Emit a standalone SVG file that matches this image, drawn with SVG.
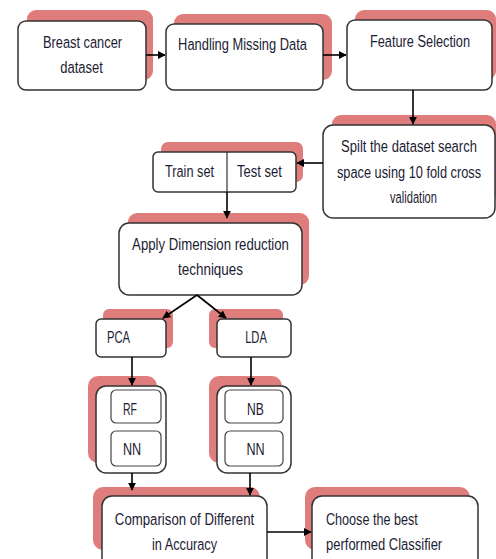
<svg xmlns="http://www.w3.org/2000/svg" width="496" height="559" viewBox="0 0 496 559">
<defs>
<marker id="ah" viewBox="0 0 10 10" refX="9" refY="5" markerWidth="5" markerHeight="5" orient="auto-start-reverse" markerUnits="strokeWidth">
<path d="M0,0 L10,5 L0,10 z" fill="#000"/>
</marker>
</defs>
<style>
.sh{fill:#df7c7c;}
.bx{fill:#fff;stroke:#333;stroke-width:1.5;}
.in{fill:#fff;stroke:#444;stroke-width:1.2;}
text{font-family:"Liberation Sans",Arial,sans-serif;font-size:17px;fill:#1c1c33;}
.c{text-anchor:middle;}
.ln{stroke:#000;stroke-width:1.6;fill:none;marker-end:url(#ah);}
</style>
<rect width="496" height="559" fill="#fff"/>

<g id="breast">
<rect class="sh" x="27" y="10" width="126" height="70" rx="9"/>
<rect class="bx" x="18" y="21" width="128" height="69" rx="8"/>
<text transform="translate(82.5,0) scale(0.7,1)" x="0" y="48" class="c" textLength="113" lengthAdjust="spacingAndGlyphs">Breast cancer</text>
<text transform="translate(81.5,0) scale(0.7,1)" x="0" y="73" class="c" textLength="61" lengthAdjust="spacingAndGlyphs">dataset</text>
</g>

<g id="missing">
<rect class="sh" x="174" y="14" width="158" height="66" rx="9"/>
<rect class="bx" x="166" y="24" width="157" height="66" rx="8"/>
<text transform="translate(242.5,0) scale(0.7,1)" x="0" y="50" class="c" textLength="184" lengthAdjust="spacingAndGlyphs">Handling Missing Data</text>
</g>

<g id="feature">
<rect class="sh" x="355" y="10" width="141" height="70" rx="9"/>
<rect class="bx" x="347" y="20" width="145" height="70" rx="8"/>
<text transform="translate(420,0) scale(0.7,1)" x="0" y="47" class="c" textLength="143" lengthAdjust="spacingAndGlyphs">Feature Selection</text>
</g>

<g id="split">
<rect class="sh" x="332" y="115" width="164" height="90" rx="9"/>
<rect class="bx" x="323" y="125" width="172" height="93" rx="10"/>
<text transform="translate(409,0) scale(0.7,1)" x="0" y="152" class="c" textLength="194" lengthAdjust="spacingAndGlyphs">Spilt the dataset search</text>
<text transform="translate(409,0) scale(0.7,1)" x="0" y="178" class="c" textLength="206" lengthAdjust="spacingAndGlyphs">space using 10 fold cross</text>
<text transform="translate(413.5,0) scale(0.7,1)" x="0" y="203" class="c" textLength="67" lengthAdjust="spacingAndGlyphs">validation</text>
</g>

<g id="trainTest">
<rect class="sh" x="161" y="142" width="142" height="40" rx="7"/>
<rect class="bx" x="153" y="152" width="143" height="40" rx="5"/>
<line x1="227" y1="152" x2="227" y2="192" stroke="#333" stroke-width="1.2"/>
<text transform="translate(189.5,0) scale(0.7,1)" x="0" y="177" class="c" textLength="70" lengthAdjust="spacingAndGlyphs">Train set</text>
<text transform="translate(259.5,0) scale(0.7,1)" x="0" y="177" class="c" textLength="64" lengthAdjust="spacingAndGlyphs">Test set</text>
</g>

<g id="dimred">
<rect class="sh" x="128" y="213" width="181" height="72" rx="9"/>
<rect class="bx" x="119" y="223" width="183" height="72" rx="10"/>
<text transform="translate(210.5,0) scale(0.7,1)" x="0" y="250" class="c" textLength="224" lengthAdjust="spacingAndGlyphs">Apply Dimension reduction</text>
<text transform="translate(210.5,0) scale(0.7,1)" x="0" y="275" class="c" textLength="93" lengthAdjust="spacingAndGlyphs">techniques</text>
</g>

<g id="pca">
<rect class="sh" x="103" y="309" width="70" height="39" rx="6"/>
<rect class="bx" x="96" y="319" width="70" height="38" rx="5"/>
<text transform="translate(118.5,0) scale(0.7,1)" x="0" y="343" class="c" textLength="33" lengthAdjust="spacingAndGlyphs">PCA</text>
</g>

<g id="lda">
<rect class="sh" x="209" y="309" width="74" height="39" rx="6"/>
<rect class="bx" x="217" y="319" width="74" height="38" rx="5"/>
<text transform="translate(256,0) scale(0.7,1)" x="0" y="343" class="c" textLength="31" lengthAdjust="spacingAndGlyphs">LDA</text>
</g>

<g id="group1">
<rect class="sh" x="88" y="376" width="69" height="87" rx="10"/>
<rect class="bx" x="96" y="386" width="70" height="87" rx="10"/>
<rect class="in" x="111" y="390" width="50" height="33" rx="5"/>
<rect class="in" x="111" y="431" width="50" height="35" rx="5"/>
<text transform="translate(130,0) scale(0.7,1)" x="0" y="415" class="c" textLength="20" lengthAdjust="spacingAndGlyphs">RF</text>
<text transform="translate(132,0) scale(0.7,1)" x="0" y="455" class="c" textLength="26" lengthAdjust="spacingAndGlyphs">NN</text>
</g>

<g id="group2">
<rect class="sh" x="209" y="376" width="73" height="87" rx="10"/>
<rect class="bx" x="217" y="386" width="74" height="87" rx="10"/>
<rect class="in" x="225" y="390" width="58" height="33" rx="5"/>
<rect class="in" x="225" y="431" width="58" height="35" rx="5"/>
<text transform="translate(255.5,0) scale(0.7,1)" x="0" y="415" class="c" textLength="24" lengthAdjust="spacingAndGlyphs">NB</text>
<text transform="translate(255.5,0) scale(0.7,1)" x="0" y="455" class="c" textLength="26" lengthAdjust="spacingAndGlyphs">NN</text>
</g>

<g id="compare">
<rect class="sh" x="93" y="487" width="167" height="63" rx="10"/>
<rect class="bx" x="102" y="496" width="165" height="75" rx="10"/>
<text transform="translate(184.5,0) scale(0.7,1)" x="0" y="525" class="c" textLength="199" lengthAdjust="spacingAndGlyphs">Comparison of Different</text>
<text transform="translate(184.5,0) scale(0.7,1)" x="0" y="550" class="c" textLength="93" lengthAdjust="spacingAndGlyphs">in Accuracy</text>
</g>

<g id="choose">
<rect class="sh" x="305" y="487" width="165" height="63" rx="10"/>
<rect class="bx" x="312" y="496" width="166" height="75" rx="10"/>
<text transform="translate(326,0) scale(0.7,1)" x="0" y="525" textLength="131" lengthAdjust="spacingAndGlyphs">Choose the best</text>
<text transform="translate(326,0) scale(0.7,1)" x="0" y="550" textLength="166" lengthAdjust="spacingAndGlyphs">performed Classifier</text>
</g>

<g id="connectors">
<line class="ln" x1="146" y1="55" x2="165" y2="55"/>
<line class="ln" x1="323" y1="55" x2="346" y2="55"/>
<line class="ln" x1="413" y1="90" x2="413" y2="124"/>
<line class="ln" x1="323" y1="163" x2="297" y2="163"/>
<line class="ln" x1="227" y1="192" x2="227" y2="218"/>
<line class="ln" x1="197" y1="295" x2="163" y2="318"/>
<line class="ln" x1="197" y1="295" x2="226" y2="318"/>
<line class="ln" x1="132" y1="357" x2="132" y2="385"/>
<line class="ln" x1="251" y1="357" x2="251" y2="385"/>
<line class="ln" x1="132" y1="473" x2="132" y2="490"/>
<line class="ln" x1="250" y1="473" x2="250" y2="495"/>
<line class="ln" x1="267" y1="532" x2="311" y2="532"/>
</g>
</svg>
